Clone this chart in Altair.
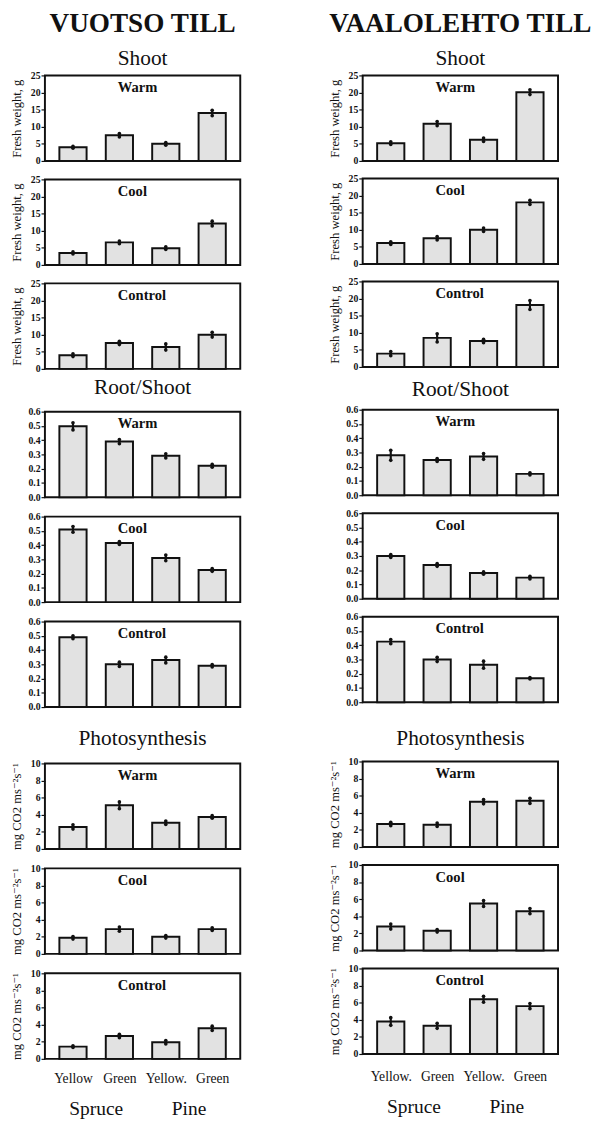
import altair as alt
import pandas as pd

SERIF = "'Liberation Serif', 'Times New Roman', Times, 'DejaVu Serif', serif"

# ---------------- data ----------------
species = ["Spruce", "Spruce", "Pine", "Pine"]
positions = [1, 2, 3, 4]
treatments = ["Warm", "Cool", "Control"]
xlabels_vuotso = ["Yellow", "Green", "Yellow.", "Green"]
xlabels_vaalo = ["Yellow.", "Green", "Yellow.", "Green"]

shoot_ticks = [0, 5, 10, 15, 20, 25]
rs_ticks = [0.0, 0.1, 0.2, 0.3, 0.4, 0.5, 0.6]
ph_ticks = [0, 2, 4, 6, 8, 10]

vuotso_shoot = {"Warm": [4.0, 7.5, 5.0, 14.0], "Cool": [3.5, 6.6, 4.9, 12.1], "Control": [4.0, 7.6, 6.4, 10.0]}
vuotso_shoot_se = {"Warm": [0.3, 0.5, 0.4, 0.8], "Cool": [0.3, 0.4, 0.4, 0.7], "Control": [0.4, 0.5, 0.9, 0.7]}
vaalo_shoot = {"Warm": [5.2, 10.9, 6.2, 20.1], "Cool": [6.1, 7.5, 10.0, 18.0], "Control": [3.9, 8.5, 7.6, 18.1]}
vaalo_shoot_se = {"Warm": [0.4, 0.6, 0.5, 0.7], "Cool": [0.4, 0.5, 0.5, 0.6], "Control": [0.6, 1.2, 0.5, 1.3]}

vuotso_rs = {"Warm": [0.497, 0.39, 0.29, 0.22], "Cool": [0.51, 0.415, 0.31, 0.226], "Control": [0.49, 0.30, 0.33, 0.29]}
vuotso_rs_se = {"Warm": [0.025, 0.015, 0.015, 0.01], "Cool": [0.02, 0.01, 0.02, 0.01], "Control": [0.01, 0.015, 0.02, 0.008]}
vaalo_rs = {"Warm": [0.28, 0.247, 0.272, 0.15], "Cool": [0.30, 0.237, 0.18, 0.148], "Control": [0.425, 0.30, 0.263, 0.168]}
vaalo_rs_se = {"Warm": [0.035, 0.01, 0.02, 0.008], "Cool": [0.01, 0.01, 0.008, 0.01], "Control": [0.015, 0.015, 0.025, 0.005]}

vuotso_ph = {"Warm": [2.57, 5.1, 3.06, 3.74], "Cool": [1.88, 2.9, 2.0, 2.9], "Control": [1.43, 2.67, 1.95, 3.57]}
vuotso_ph_se = {"Warm": [0.25, 0.4, 0.2, 0.15], "Cool": [0.15, 0.25, 0.15, 0.15], "Control": [0.1, 0.2, 0.2, 0.25]}
vaalo_ph = {"Warm": [2.7, 2.6, 5.3, 5.4], "Cool": [2.8, 2.3, 5.5, 4.6], "Control": [3.8, 3.3, 6.4, 5.6]}
vaalo_ph_se = {"Warm": [0.2, 0.2, 0.25, 0.3], "Cool": [0.3, 0.15, 0.35, 0.3], "Control": [0.45, 0.3, 0.35, 0.3]}

W, H = 201, 88
INK = "#111111"


def panel(means, ses, treatment, ymax, yticks, yfmt, ytitle, bottom=False,
          xlabels=None, label_pad=10, species_y=144, title=None):
    df = pd.DataFrame({"pos": positions, "mean": means, "se": ses, "species": species})
    base = alt.Chart(df).transform_calculate(lo="datum.mean - datum.se", hi="datum.mean + datum.se")
    xscale = alt.Scale(domain=[0.5, 4.5], nice=False, zero=False)
    yscale = alt.Scale(domain=[0, ymax], nice=False)
    if bottom:
        arr = "[" + ",".join("'%s'" % s for s in xlabels) + "]"
        xaxis = alt.Axis(values=positions, labelExpr=arr + "[datum.value - 1]", ticks=False,
                         domain=False, grid=False, labelPadding=label_pad, labelFontSize=14,
                         labelFontWeight="normal", labelFont=SERIF, labelColor=INK, title=None)
    else:
        xaxis = None
    yaxis = alt.Axis(values=yticks, format=yfmt, grid=False, domain=False)

    def X(f):
        return alt.X(f, scale=xscale, axis=xaxis, title=None)

    def Y(f):
        return alt.Y(f, scale=yscale, axis=yaxis, title=ytitle)

    bars = base.mark_bar(size=28, fill="#e2e2e2", stroke=INK, strokeWidth=2).encode(x=X("pos:Q"), y=Y("mean:Q"))
    err = base.mark_rule(color=INK, strokeWidth=2.2).encode(x=X("pos:Q"), y=Y("lo:Q"), y2="hi:Q")
    ends = base.transform_fold(["lo", "hi"]).mark_circle(size=14, color=INK, opacity=1).encode(
        x=X("pos:Q"), y=Y("value:Q"))
    lab = alt.Chart(pd.DataFrame({"t": [treatment]})).mark_text(
        align="left", baseline="alphabetic", font=SERIF, fontSize=15, fontWeight="bold", color=INK
    ).encode(x=alt.value(75), y=alt.value(17), text="t:N")
    layers = [bars, err, ends, lab]
    if bottom:
        sp = base.transform_aggregate(pos="mean(pos)", groupby=["species"]).mark_text(
            font=SERIF, fontSize=20, baseline="alphabetic", color=INK
        ).encode(x=X("pos:Q"), y=alt.value(species_y), text="species:N")
        layers.append(sp)
    ch = alt.layer(*layers).properties(width=W, height=H)
    if title is not None:
        ch = ch.properties(title=title)
    return ch


def column(site, shoot, shoot_se, rs, rs_se, ph, ph_se, xlabels, L):
    shoot_title = alt.TitleParams(site, subtitle="Shoot", anchor="middle", frame="group",
                                  font=SERIF, fontSize=28, fontWeight="bold", color=INK,
                                  subtitleFont=SERIF, subtitleFontSize=22, subtitleColor=INK,
                                  subtitlePadding=L["subpad"], offset=L["off1"])
    rs_title = alt.TitleParams("Root/Shoot", anchor="middle", frame="group", font=SERIF,
                               fontSize=22, fontWeight="normal", color=INK, offset=L["off2"])
    ph_title = alt.TitleParams("Photosynthesis", anchor="middle", frame="group", font=SERIF,
                               fontSize=22, fontWeight="normal", color=INK, offset=L["off3"])
    g1 = alt.vconcat(*[
        panel(shoot[t], shoot_se[t], t, 25, shoot_ticks, "d", "Fresh weight, g",
              title=shoot_title if i == 0 else None)
        for i, t in enumerate(treatments)], spacing=L["sp1"])
    g2 = alt.vconcat(*[
        panel(rs[t], rs_se[t], t, 0.6, rs_ticks, ".1f", None,
              title=rs_title if i == 0 else None)
        for i, t in enumerate(treatments)], spacing=L["sp2"])
    g3 = alt.vconcat(*[
        panel(ph[t], ph_se[t], t, 10, ph_ticks, "d", "mg CO2 ms\u207b\u00b2s\u207b\u00b9",
              bottom=(i == 2), xlabels=xlabels, label_pad=L["lpad"], species_y=L["spy"],
              title=ph_title if i == 0 else None)
        for i, t in enumerate(treatments)], spacing=L["sp3"])
    top = alt.vconcat(g1, g2, spacing=L["gap12"])
    return alt.vconcat(top, g3, spacing=L["gap23"])


L1 = dict(subpad=11, off1=2, sp1=7, gap12=1, off2=8, sp2=8, gap23=14, off3=9, sp3=8, lpad=13, spy=146)
L2 = dict(subpad=11, off1=2, sp1=6, gap12=5, off2=4, sp2=6.5, gap23=19, off3=7, sp3=6.5, lpad=16, spy=149)

col1 = column("VUOTSO TILL", vuotso_shoot, vuotso_shoot_se, vuotso_rs, vuotso_rs_se,
              vuotso_ph, vuotso_ph_se, xlabels_vuotso, L1)
col2 = column("VAALOLEHTO TILL", vaalo_shoot, vaalo_shoot_se, vaalo_rs, vaalo_rs_se,
              vaalo_ph, vaalo_ph_se, xlabels_vaalo, L2)

chart = alt.hconcat(col1, col2, spacing=89).properties(
    padding={"left": 2, "top": -15, "right": 0, "bottom": 0}
).configure_view(
    stroke=INK, strokeWidth=2
).configure_axis(
    labelFont=SERIF, labelFontSize=10, labelFontWeight="bold", labelColor=INK,
    titleFont=SERIF, titleFontSize=13, titleFontWeight="normal", titleColor=INK,
    tickColor=INK, tickSize=4, tickWidth=1.2, labelPadding=1, titlePadding=7
).configure_concat(spacing=10)

chart.save("out.html", embed_options={"renderer": "svg", "actions": False})
